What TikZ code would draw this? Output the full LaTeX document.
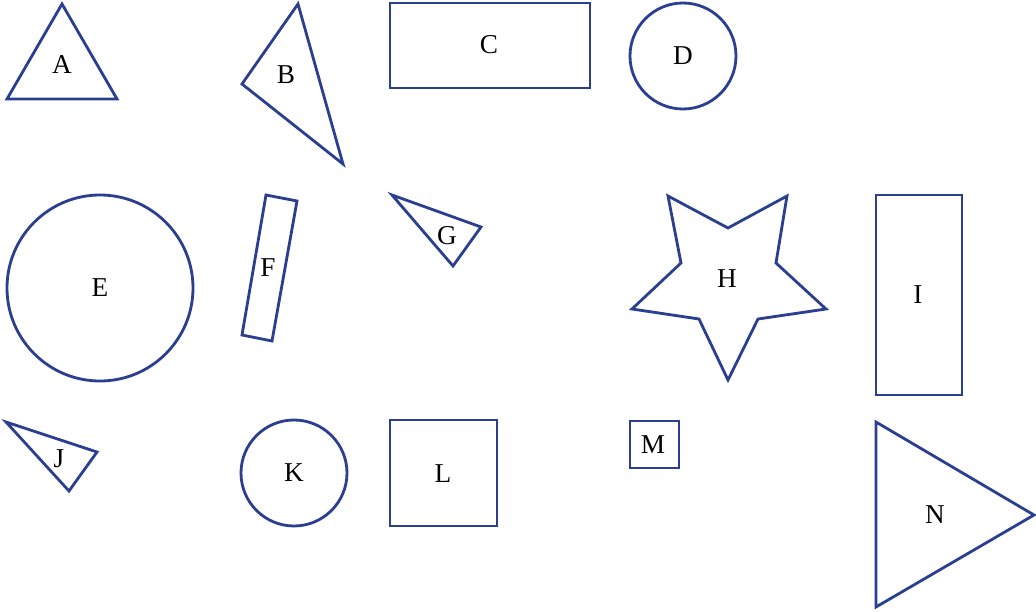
\documentclass[tikz,border=0pt]{standalone}
\usepackage{fontspec}
\setmainfont{Liberation Serif}
\usepackage{xcolor}
\usepackage{tikz}

\definecolor{shapeblue}{RGB}{42,63,143}

\begin{document}
\begin{tikzpicture}[
    x=0.02cm, y=-0.02cm,
    outline/.style={draw=shapeblue, line width=1.6pt, line join=miter},
    lbl/.style={font=\fontsize{15.5}{18}\selectfont, inner sep=0pt},
]
\useasboundingbox (0,0) rectangle (1036,612);

% first row
\draw[outline] (62,4) -- (7,99) -- (117,99) -- cycle;
\node[lbl] (A) at (62,65) {A};
\draw[outline] (298,4) -- (242,84) -- (343,164) -- cycle;
\node[lbl] (B) at (286,75) {B};
\draw[outline] (390,3) rectangle (590,88);
\node[lbl] (C) at (489,45) {C};
\draw[outline] (683,56) circle (53);
\node[lbl] (D) at (683,56) {D};

% second row
\draw[outline] (100,288) circle (93);
\node[lbl] (E) at (100,288) {E};
\draw[outline] (266,195) -- (297,201) -- (272,341) -- (242,335) -- cycle;
\node[lbl] (F) at (268,268) {F};
\draw[outline] (392,195) -- (481,227) -- (453,266) -- cycle;
\node[lbl] (G) at (447,236) {G};
\draw[outline] (668,196) -- (728,228) -- (787,196) -- (776,263) -- (826,309)
    -- (758,319) -- (728,380) -- (699,319) -- (632,309) -- (681,263) -- cycle;
\node[lbl] (H) at (727,279) {H};
\draw[outline] (876,195) rectangle (962,395);
\node[lbl] (I) at (918,295) {I};

% third row
\draw[outline] (6,422) -- (97,452) -- (69,491) -- cycle;
\node[lbl] (J) at (59,459) {J};
\draw[outline] (294,473) circle (53);
\node[lbl] (K) at (294,473) {K};
\draw[outline] (390,420) rectangle (497,526);
\node[lbl] (L) at (443,474) {L};
\draw[outline] (630,421) rectangle (679,468);
\node[lbl] (M) at (653,445) {M};
\draw[outline] (876,422) -- (1034,515) -- (876,607) -- cycle;
\node[lbl] (N) at (935,515) {N};

\end{tikzpicture}
\end{document}
